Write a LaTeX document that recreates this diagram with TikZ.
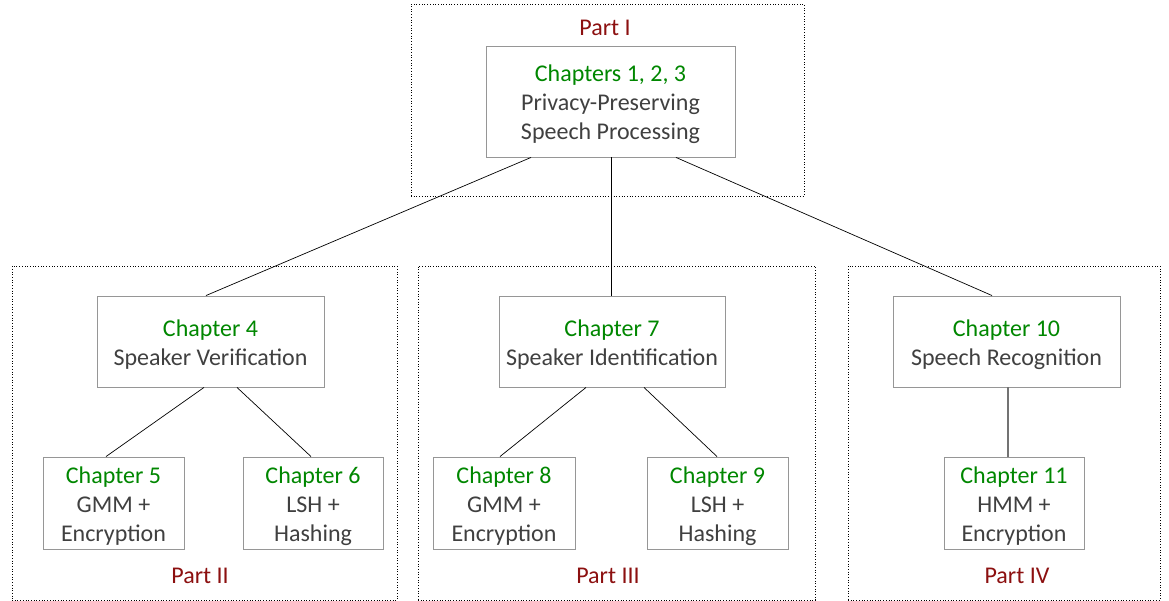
\documentclass[tikz,border=0pt]{standalone}
\usepackage{fontspec}
\setmainfont{Carlito}
\usetikzlibrary{calc}
\definecolor{chapgreen}{RGB}{0,135,0}
\definecolor{partred}{RGB}{140,16,16}
\definecolor{bodygray}{RGB}{64,64,64}
\definecolor{edgegray}{RGB}{150,150,150}
\begin{document}
\begin{tikzpicture}[x=1pt,y=-1pt,
  every node/.style={font=\fontsize{24}{29}\selectfont, text=bodygray, align=center, inner sep=0pt},
  chapbox/.style={draw=edgegray, line width=0.9pt, fill=white},
  chaptext/.style={yshift=-3pt},
  partbox/.style={draw=black, dotted, line width=0.7pt},
  partlabel/.style={text=partred},
  link/.style={draw=black, line width=0.7pt},
  glink/.style={draw=gray!90!black, line width=1.3pt}]
\newcommand{\chap}[1]{\textcolor{chapgreen}{#1}}
\useasboundingbox (0,0) rectangle (1169,601);

% part frames
\node[partbox, minimum width=393pt, minimum height=192pt] (p1) at (607.5,100) {};
\node[partbox, minimum width=385pt, minimum height=334pt] (p2) at (204.5,433) {};
\node[partbox, minimum width=397pt, minimum height=334pt] (p3) at (616.5,433) {};
\node[partbox, minimum width=312pt, minimum height=334pt] (p4) at (1004,433) {};

% part labels
\node[partlabel] (l1) at (605,28) {Part I};
\node[partlabel] (l2) at (200,576) {Part II};
\node[partlabel] (l3) at (608,576) {Part III};
\node[partlabel] (l4) at (1017,576) {Part IV};

% chapter boxes
\node[chapbox, minimum width=249pt, minimum height=111pt] (top) at (610.5,101.5) {};
\node[chapbox, minimum width=227pt, minimum height=91pt] (c4) at (210.5,341.5) {};
\node[chapbox, minimum width=226pt, minimum height=91pt] (c7) at (612,341.5) {};
\node[chapbox, minimum width=227pt, minimum height=91pt] (c10) at (1006.5,341.5) {};
\node[chapbox, minimum width=141pt, minimum height=92pt] (c5) at (113.5,503) {};
\node[chapbox, minimum width=140pt, minimum height=92pt] (c6) at (313,503) {};
\node[chapbox, minimum width=142pt, minimum height=92pt] (c8) at (504,503) {};
\node[chapbox, minimum width=141pt, minimum height=92pt] (c9) at (717.5,503) {};
\node[chapbox, minimum width=140pt, minimum height=92pt] (c11) at (1014,503) {};

% chapter texts
\node[chaptext] (ttop) at (top) {\chap{Chapters 1, 2, 3}\\Privacy-Preserving\\Speech Processing};
\node[chaptext] (t4) at (c4) {\chap{Chapter 4}\\Speaker Verification};
\node[chaptext] (t7) at (c7) {\chap{Chapter 7}\\Speaker Identification};
\node[chaptext] (t10) at (c10) {\chap{Chapter 10}\\Speech Recognition};
\node[chaptext] (t5) at (c5) {\chap{Chapter 5}\\GMM +\\Encryption};
\node[chaptext] (t6) at (c6) {\chap{Chapter 6}\\LSH +\\Hashing};
\node[chaptext] (t8) at (c8) {\chap{Chapter 8}\\GMM +\\Encryption};
\node[chaptext] (t9) at (c9) {\chap{Chapter 9}\\LSH +\\Hashing};
\node[chaptext] (t11) at (c11) {\chap{Chapter 11}\\HMM +\\Encryption};

% connectors
\draw[link] ([xshift=-79.5pt]top.south) -- ([xshift=-4.5pt]c4.north);
\draw[link] ([xshift=0.5pt]top.south) -- ([xshift=-1pt]c7.north);
\draw[link] ([xshift=65.5pt]top.south) -- ([xshift=-14.5pt]c10.north);
\draw[link] ([xshift=-6.5pt]c4.south) -- ([xshift=-7.5pt]c5.north);
\draw[link] ([xshift=26.5pt]c4.south) -- ([xshift=-2pt]c6.north);
\draw[link] ([xshift=-26pt]c7.south) -- ([xshift=-4pt]c8.north);
\draw[link] ([xshift=32pt]c7.south) -- ([xshift=-0.5pt]c9.north);
\draw[glink] ([xshift=1.5pt]c10.south) -- ([xshift=-6pt]c11.north);
\end{tikzpicture}
\end{document}
